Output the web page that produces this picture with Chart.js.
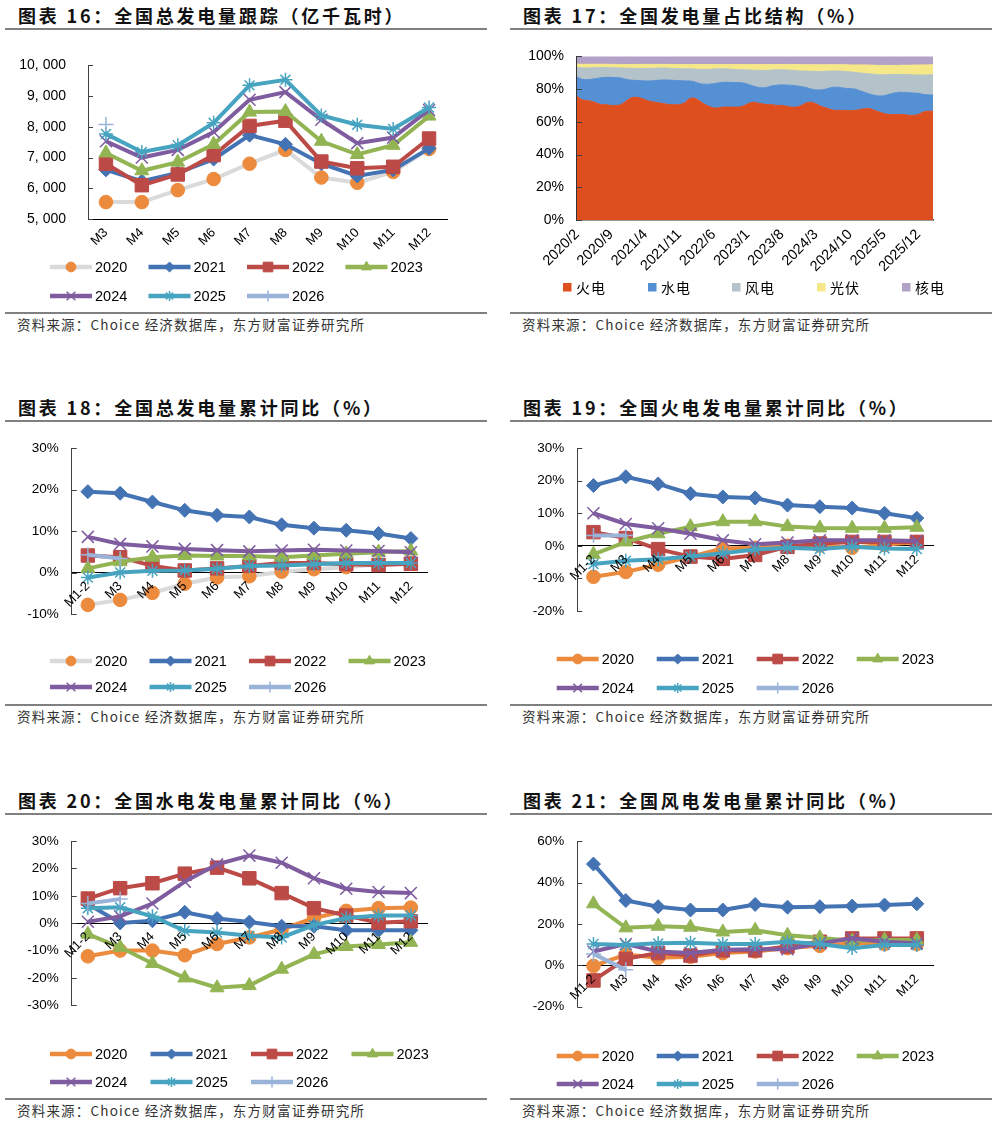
<!DOCTYPE html>
<html>
<head>
<meta charset="utf-8">
<script src="https://cdn.jsdelivr.net/npm/chart.js@4.4.1/dist/chart.umd.min.js"></script>
<style>
  body { margin: 0; background: #fff; width: 997px; height: 1123px; position: relative; overflow: hidden;
         font-family: "Noto Sans CJK SC", sans-serif; }
  .panel { position: absolute; width: 482px; height: 340px; }
  .title { position: absolute; left: 13px; top: 3px; font-size: 18px; font-weight: 700; letter-spacing: 2.8px;
           line-height: 24px; color: #111; white-space: nowrap; }
  .rule { position: absolute; left: 0; width: 482px; height: 2px; background: #808080; }
  .box { position: absolute; left: 0; top: 35px; width: 482px; height: 275px; }
  .src { position: absolute; left: 12px; top: 315px; font-size: 13.5px; letter-spacing: 1.2px; color: #333;
         line-height: 18px; white-space: nowrap; }
</style>
</head>
<body>

<div class="panel" style="left:5px;top:0px">
  <div class="title">图表 16：全国总发电量跟踪（亿千瓦时）</div>
  <div class="rule" style="top:28px"></div>
  <div class="box"><canvas id="c16" width="482" height="275"></canvas></div>
  <div class="rule" style="top:312px"></div>
  <div class="src">资料来源：Choice 经济数据库，东方财富证券研究所</div>
</div>
<div class="panel" style="left:510px;top:0px">
  <div class="title">图表 17：全国发电量占比结构（%）</div>
  <div class="rule" style="top:28px"></div>
  <div class="box"><canvas id="c17" width="482" height="275"></canvas></div>
  <div class="rule" style="top:312px"></div>
  <div class="src">资料来源：Choice 经济数据库，东方财富证券研究所</div>
</div>
<div class="panel" style="left:5px;top:392px">
  <div class="title">图表 18：全国总发电量累计同比（%）</div>
  <div class="rule" style="top:28px"></div>
  <div class="box"><canvas id="c18" width="482" height="275"></canvas></div>
  <div class="rule" style="top:312px"></div>
  <div class="src">资料来源：Choice 经济数据库，东方财富证券研究所</div>
</div>
<div class="panel" style="left:510px;top:392px">
  <div class="title">图表 19：全国火电发电量累计同比（%）</div>
  <div class="rule" style="top:28px"></div>
  <div class="box"><canvas id="c19" width="482" height="275"></canvas></div>
  <div class="rule" style="top:312px"></div>
  <div class="src">资料来源：Choice 经济数据库，东方财富证券研究所</div>
</div>
<div class="panel" style="left:5px;top:785px">
  <div class="title">图表 20：全国水电发电量累计同比（%）</div>
  <div class="rule" style="top:28px"></div>
  <div class="box"><canvas id="c20" width="482" height="275"></canvas></div>
  <div class="rule" style="top:313px"></div>
  <div class="src" style="top:316px">资料来源：Choice 经济数据库，东方财富证券研究所</div>
</div>
<div class="panel" style="left:510px;top:785px">
  <div class="title">图表 21：全国风电发电量累计同比（%）</div>
  <div class="rule" style="top:28px"></div>
  <div class="box"><canvas id="c21" width="482" height="275"></canvas></div>
  <div class="rule" style="top:313px"></div>
  <div class="src" style="top:316px">资料来源：Choice 经济数据库，东方财富证券研究所</div>
</div>

<script>
// ---- data ----
const years = ["2020", "2021", "2022", "2023", "2024", "2025", "2026"];
const monthsGen = ["M3", "M4", "M5", "M6", "M7", "M8", "M9", "M10", "M11", "M12"];
const monthsYoY = ["M1-2", "M3", "M4", "M5", "M6", "M7", "M8", "M9", "M10", "M11", "M12"];

// chart 16: monthly generation, 亿千瓦时 (rows follow `years`)
const genTotal = [
  [5550, 5550, 5940, 6300, 6800, 7250, 6350, 6180, 6530, 7280],
  [6600, 6230, 6500, 6950, 7730, 7430, 6800, 6400, 6600, 7300],
  [6800, 6100, 6450, 7080, 8030, 8200, 6870, 6650, 6700, 7620],
  [7150, 6570, 6850, 7430, 8480, 8500, 7530, 7100, 7400, 8350],
  [7530, 7000, 7250, 7830, 8880, 9130, 8230, 7470, 7650, 8550],
  [7770, 7180, 7400, 8130, 9350, 9530, 8370, 8070, 7930, 8630],
  [8080]
];

// chart 18: total generation, cumulative yoy %
const totalYoY = [
  [-7.8, -6.6, -4.9, -2.7, -1.2, -0.9, 0.2, 0.8, 1.3, 2.0, 2.3],
  [19.5, 19.1, 17.0, 15.0, 13.8, 13.4, 11.5, 10.7, 10.2, 9.4, 8.2],
  [4.1, 3.7, 1.6, 0.5, 1.0, 1.6, 2.3, 2.3, 2.0, 1.8, 2.1],
  [1.0, 2.6, 3.7, 4.1, 4.0, 4.0, 3.7, 4.1, 4.5, 4.9, 5.2],
  [8.6, 6.9, 6.3, 5.7, 5.4, 5.1, 5.3, 5.5, 5.3, 5.2, 4.9],
  [-1.2, 0.0, 0.4, 0.5, 0.9, 1.6, 1.7, 2.0, 2.3, 2.3, 2.3],
  [4.3, 3.4]
];

// chart 19: thermal, cumulative yoy %
const thermalYoY = [
  [-9.5, -8.0, -5.8, -3.3, -0.8, -0.6, 0.0, 0.1, -0.6, 0.3, 1.2],
  [18.5, 21.2, 19.0, 16.0, 15.0, 14.7, 12.5, 12.0, 11.6, 10.0, 8.5],
  [4.2, 2.4, -1.0, -3.3, -4.0, -2.8, -0.3, 0.7, 1.2, 1.2, 1.2],
  [-2.6, 1.2, 3.7, 5.9, 7.4, 7.4, 5.9, 5.5, 5.4, 5.4, 5.7],
  [10.0, 6.7, 5.4, 3.7, 1.7, 0.5, 1.0, 1.7, 1.7, 1.7, 1.5],
  [-5.6, -4.6, -4.1, -3.3, -2.3, -1.1, -0.6, -1.0, -0.3, -0.8, -1.0],
  [3.2, 3.2]
];

// chart 20: hydro, cumulative yoy %
const hydroYoY = [
  [-12.1, -10.0, -10.0, -11.7, -7.6, -5.2, -2.3, 1.9, 4.5, 5.5, 5.7],
  [7.0, 0.1, 0.9, 4.0, 1.7, 0.4, -1.1, -1.1, -2.6, -2.6, -2.6],
  [9.0, 12.8, 14.6, 18.1, 20.3, 16.4, 11.0, 5.5, 2.8, 0.2, 0.7],
  [-4.0, -8.8, -14.7, -20.0, -23.6, -22.8, -16.8, -11.4, -8.5, -7.8, -7.0],
  [0.5, 2.5, 7.2, 15.2, 21.5, 24.7, 22.1, 16.4, 12.6, 11.4, 11.0],
  [5.5, 5.8, 2.5, -2.8, -3.4, -4.6, -5.2, -0.7, 1.9, 2.8, 2.8],
  [7.2, 8.8]
];

// chart 21: wind, cumulative yoy %
const windYoY = [
  [-0.3, 5.2, 3.6, 4.1, 5.9, 6.7, 8.3, 9.4, 10.6, 10.3, 10.3],
  [48.9, 31.3, 28.3, 26.7, 26.7, 29.4, 28.1, 28.3, 28.6, 29.1, 29.7],
  [-7.3, 3.1, 5.9, 4.7, 7.2, 7.2, 9.1, 11.4, 13.0, 13.0, 13.0],
  [29.7, 18.1, 18.9, 18.4, 16.1, 16.9, 14.5, 13.3, 11.7, 12.2, 12.2],
  [6.7, 10.3, 6.7, 5.9, 7.5, 7.8, 7.8, 10.6, 13.0, 11.4, 10.6],
  [10.3, 9.8, 10.6, 10.9, 10.3, 10.3, 11.4, 10.3, 8.3, 9.8, 9.8],
  [5.5, -2.2]
];

// chart 17: monthly share of generation, %
const shareMonths = [
  "2020/2", "2020/3", "2020/4", "2020/5", "2020/6", "2020/7", "2020/8", "2020/9", "2020/10", "2020/11", "2020/12",
  "2021/1", "2021/2", "2021/3", "2021/4", "2021/5", "2021/6", "2021/7", "2021/8", "2021/9", "2021/10", "2021/11", "2021/12",
  "2022/1", "2022/2", "2022/3", "2022/4", "2022/5", "2022/6", "2022/7", "2022/8", "2022/9", "2022/10", "2022/11", "2022/12",
  "2023/1", "2023/2", "2023/3", "2023/4", "2023/5", "2023/6", "2023/7", "2023/8", "2023/9", "2023/10", "2023/11", "2023/12",
  "2024/1", "2024/2", "2024/3", "2024/4", "2024/5", "2024/6", "2024/7", "2024/8", "2024/9", "2024/10", "2024/11", "2024/12",
  "2025/1", "2025/2", "2025/3", "2025/4", "2025/5", "2025/6", "2025/7", "2025/8", "2025/9", "2025/10", "2025/11", "2025/12",
  "2026/1", "2026/2", "2026/3"
];
const shareLabels = ["火电", "水电", "风电", "光伏", "核电"];
const fireShare = [
  75.5, 73.5, 73.0, 72.5, 71.5, 70.5, 70.5, 70.0, 70.0, 70.5, 72.5,
  74.5, 75.0, 74.5, 73.5, 72.5, 72.0, 71.5, 71.0, 70.5, 70.5, 70.5, 71.5,
  74.0, 74.5, 73.0, 71.0, 69.5, 68.5, 68.5, 69.0, 69.0, 69.0, 69.0, 69.5,
  71.0, 72.0, 71.5, 71.0, 70.5, 70.5, 70.0, 70.0, 69.5, 69.0, 69.0, 70.0,
  71.5, 72.0, 71.0, 69.5, 68.5, 67.5, 67.0, 67.0, 67.0, 66.8, 67.0, 67.5,
  68.0, 68.0, 67.0, 66.0, 65.0, 64.5, 64.5, 64.5, 64.5, 64.0, 64.0, 64.5,
  66.0, 66.5, 66.5
];
const hydroShare = [
  12.0, 12.5, 12.8, 13.5, 15.0, 16.5, 16.7, 17.2, 17.0, 16.3, 13.5,
  11.0, 10.3, 10.7, 11.5, 12.5, 13.2, 14.0, 14.6, 15.0, 14.8, 14.7, 13.5,
  11.0, 10.0, 10.5, 12.0, 13.5, 14.8, 15.3, 15.2, 15.2, 15.0, 15.0, 14.3,
  12.0, 10.0, 9.7, 9.8, 10.7, 11.5, 12.4, 12.6, 13.0, 13.3, 13.0, 11.5,
  9.5, 8.0, 8.5, 10.0, 11.5, 13.3, 14.2, 14.0, 13.5, 13.5, 13.0, 11.5,
  10.0, 9.0, 9.2, 9.8, 11.0, 12.3, 13.1, 13.5, 13.5, 13.8, 13.6, 12.9,
  10.8, 10.0, 9.9
];
const windShare = [
  5.9, 7.0, 7.1, 7.0, 6.6, 6.2, 6.0, 5.9, 6.0, 6.1, 6.8,
  7.3, 7.4, 7.4, 7.6, 7.7, 7.6, 7.4, 7.3, 7.3, 7.3, 7.3, 7.4,
  7.4, 7.8, 8.6, 9.0, 9.1, 9.0, 8.6, 8.2, 8.1, 8.1, 7.9, 8.0,
  8.7, 9.6, 10.3, 10.6, 10.3, 9.7, 9.4, 9.2, 9.2, 9.2, 9.3, 9.6,
  10.0, 10.9, 11.3, 11.3, 10.9, 10.2, 9.9, 10.0, 10.3, 10.2, 10.2, 10.9,
  11.6, 12.3, 12.8, 13.0, 12.8, 12.1, 11.4, 11.0, 10.9, 11.0, 11.1, 11.2,
  11.8, 12.2, 12.4
];
const solarShare = [
  1.9, 2.2, 2.3, 2.2, 2.1, 2.0, 2.0, 2.0, 2.1, 2.2, 2.2,
  2.2, 2.4, 2.5, 2.5, 2.4, 2.3, 2.2, 2.2, 2.3, 2.4, 2.5, 2.6,
  2.6, 2.7, 2.9, 3.0, 2.9, 2.7, 2.6, 2.6, 2.7, 2.9, 3.1, 3.2,
  3.3, 3.4, 3.5, 3.6, 3.5, 3.3, 3.2, 3.2, 3.3, 3.5, 3.7, 3.8,
  3.9, 4.0, 4.1, 4.1, 4.0, 3.9, 3.8, 3.9, 4.1, 4.3, 4.6, 4.9,
  5.2, 5.4, 5.6, 5.7, 5.7, 5.6, 5.5, 5.5, 5.7, 5.8, 6.0, 6.1,
  6.2, 6.1, 6.1
];
const nuclearShare = [
  4.7, 4.8, 4.8, 4.8, 4.8, 4.8, 4.8, 4.9, 4.9, 4.9, 5.0,
  5.0, 4.9, 4.9, 4.9, 4.9, 4.9, 4.9, 4.9, 4.9, 5.0, 5.0, 5.0,
  5.0, 5.0, 5.0, 5.0, 5.0, 5.0, 5.0, 5.0, 5.0, 5.0, 5.0, 5.0,
  5.0, 5.0, 5.0, 5.0, 5.0, 5.0, 5.0, 5.0, 5.0, 5.0, 5.0, 5.1,
  5.1, 5.1, 5.1, 5.1, 5.1, 5.1, 5.1, 5.1, 5.1, 5.2, 5.2, 5.2,
  5.2, 5.3, 5.4, 5.5, 5.5, 5.5, 5.5, 5.5, 5.4, 5.4, 5.3, 5.3,
  5.2, 5.2, 5.1
];

// ---- styles ----
Chart.defaults.font.family = '"Liberation Sans", "Noto Sans CJK SC", sans-serif';
Chart.defaults.color = "#000";

const yearStyle = [
  { color: "#ec8b3d", point: "circle", r: 6.8 },
  { color: "#4473b4", point: "rectRot", r: 7 },
  { color: "#bc4a47", point: "rect", r: 9.5 },
  { color: "#92b453", point: "triangle", r: 8 },
  { color: "#7e5c9f", point: "crossRot", r: 8.5 },
  { color: "#47a4c0", point: "star", r: 7 },
  { color: "#99b3d9", point: "cross", r: 7.5 }
];
const shareColors = ["#dd4f1f", "#558fd4", "#b4c3ca", "#f6e788", "#b3a1c8"];

function drawMarker(ctx, style, r, x, y) {
  if (Chart.helpers && Chart.helpers.drawPoint) {
    Chart.helpers.drawPoint(ctx, { pointStyle: style, radius: r, rotation: 0, borderWidth: ctx.lineWidth }, x, y);
  } else {
    ctx.beginPath(); ctx.arc(x, y, r, 0, Math.PI * 2); ctx.fill();
  }
}

// legend with a line and a marker per year, two rows
const lineLegend = {
  id: "lineLegend",
  afterDraw(chart, args, opts) {
    const ctx = chart.ctx;
    chart.data.datasets.forEach((ds, i) => {
      const x = opts.x0 + (i % 4) * opts.dx;
      const y = opts.rows[i < 4 ? 0 : 1];
      ctx.save();
      ctx.strokeStyle = ds.borderColor;
      ctx.lineWidth = 4.5;
      ctx.beginPath(); ctx.moveTo(x, y); ctx.lineTo(x + 42, y); ctx.stroke();
      ctx.fillStyle = ds.pointBackgroundColor;
      ctx.strokeStyle = ds.pointBorderColor;
      ctx.lineWidth = ds.pointBorderWidth;
      drawMarker(ctx, ds.pointStyle, ds.pointRadius * 0.72, x + 21, y);
      ctx.fillStyle = "#000";
      ctx.font = '14.5px "Liberation Sans", sans-serif';
      ctx.textBaseline = "middle";
      ctx.fillText(ds.label, x + 45, y + 1);
      ctx.restore();
    });
  }
};

// square swatches for the share chart
const boxLegend = {
  id: "boxLegend",
  afterDraw(chart, args, opts) {
    const ctx = chart.ctx;
    chart.data.datasets.forEach((ds, i) => {
      const x = opts.xs[i], y = opts.y;
      ctx.save();
      ctx.fillStyle = ds.backgroundColor;
      ctx.fillRect(x, y - 4, 8.5, 8.5);
      ctx.fillStyle = "#000";
      ctx.font = '14px "Noto Sans CJK SC", sans-serif';
      ctx.textBaseline = "middle";
      ctx.letterSpacing = "1px";
      ctx.fillText(ds.label, x + 13, y + 1);
      ctx.restore();
    });
  }
};

// small tick marks on the inner side of the value axis
const innerTicks = {
  id: "innerTicks",
  afterDatasetsDraw(chart) {
    const ys = chart.scales.y, ctx = chart.ctx;
    ctx.save();
    ctx.strokeStyle = "#404040";
    ctx.lineWidth = 1;
    ys.ticks.forEach(t => {
      const py = Math.round(ys.getPixelForValue(t.value)) + 0.5;
      ctx.beginPath(); ctx.moveTo(ys.right, py); ctx.lineTo(ys.right + 5, py); ctx.stroke();
    });
    ctx.restore();
  }
};

function lineChart(id, labels, rows, o) {
  const datasets = rows.map((data, i) => {
    const s = yearStyle[i];
    const thin = ["cross", "crossRot", "star"].includes(s.point);
    return {
      label: years[i],
      data,
      borderColor: (i === 0 && o.grey2020) ? "#dadada" : s.color,
      borderWidth: 4,
      tension: 0,
      pointStyle: s.point,
      pointRadius: s.r,
      pointHoverRadius: s.r,
      pointBackgroundColor: s.color,
      pointBorderColor: s.color,
      pointBorderWidth: thin ? 1.5 : 1,
      order: rows.length - i
    };
  });
  new Chart(document.getElementById(id), {
    type: "line",
    data: { labels, datasets },
    plugins: [innerTicks, lineLegend],
    options: {
      responsive: false,
      animation: false,
      events: [],
      // an x axis placed at y = 0 takes no layout room, so its space goes in the padding
      layout: { padding: { left: 0, right: o.padR, top: o.padT, bottom: o.xAtZero ? o.xh : 0 } },
      plugins: {
        legend: { display: false },
        tooltip: { enabled: false },
        lineLegend: o.legend
      },
      scales: {
        x: {
          position: o.xAtZero ? { y: 0 } : "bottom",
          offset: true,
          grid: { display: false, drawTicks: false },
          border: { color: "#000", width: 1 },
          // labels sit on the zero line, drawn above the series as in the source
          ticks: { autoSkip: false, minRotation: 45, maxRotation: 45, padding: 6, font: { size: 13 },
                   z: o.xAtZero ? 1 : 0 },
          afterFit: s => { s.height = o.xAtZero ? 0 : o.xh; }
        },
        y: {
          min: o.min, max: o.max,
          grid: { display: false, drawTicks: false },
          border: { color: "#404040", width: 1 },
          ticks: { stepSize: o.step, padding: o.tickPad, font: { size: o.tickSize }, callback: o.fmt },
          afterFit: s => { s.width = o.yw; }
        }
      }
    }
  });
}

const pct = v => v + "%";

lineChart("c16", monthsGen, genTotal, {
  grey2020: true, xAtZero: false, min: 5000, max: 10000, step: 1000,
  fmt: v => v.toLocaleString("en-US").replace(",", ", "), tickPad: 22, tickSize: 14,
  yw: 83, padR: 40, padT: 17, xh: 91,
  legend: { x0: 45, dx: 98.5, rows: [232, 261] }
});
lineChart("c18", monthsYoY, totalYoY, {
  grey2020: true, xAtZero: true, min: -10, max: 30, step: 10,
  fmt: pct, tickPad: 13, tickSize: 13.5,
  yw: 66.7, padR: 60, padT: 16.3, xh: 88,
  legend: { x0: 45, dx: 99.5, rows: [234, 260] }
});
lineChart("c19", monthsYoY, thermalYoY, {
  grey2020: false, xAtZero: true, min: -20, max: 30, step: 10,
  fmt: pct, tickPad: 13, tickSize: 13.5,
  yw: 67.3, padR: 59, padT: 16.3, xh: 91,
  legend: { x0: 46.7, dx: 100, rows: [232, 261] }
});
lineChart("c20", monthsYoY, hydroYoY, {
  grey2020: false, xAtZero: true, min: -30, max: 30, step: 10,
  fmt: pct, tickPad: 13, tickSize: 13.5,
  yw: 66.7, padR: 60, padT: 16.7, xh: 89.7,
  legend: { x0: 45, dx: 100.5, rows: [234, 262] }
});
lineChart("c21", monthsYoY, windYoY, {
  grey2020: false, xAtZero: true, min: -20, max: 60, step: 20,
  fmt: pct, tickPad: 13, tickSize: 13.5,
  yw: 67.3, padR: 59, padT: 16.7, xh: 88.3,
  legend: { x0: 46.7, dx: 100, rows: [236, 264] }
});

// chart 17: 100% stacked area
const shareSeries = [fireShare, hydroShare, windShare, solarShare, nuclearShare];
new Chart(document.getElementById("c17"), {
  type: "line",
  data: {
    labels: shareMonths,
    datasets: shareSeries.map((data, i) => ({
      label: shareLabels[i],
      data,
      fill: i === 0 ? "origin" : "-1",
      backgroundColor: shareColors[i],
      borderColor: shareColors[i],
      borderWidth: 1,
      pointRadius: 0,
      tension: 0.3
    }))
  },
  plugins: [innerTicks, boxLegend],
  options: {
    responsive: false,
    animation: false,
    events: [],
    layout: { padding: { left: 0, right: 59, top: 16.7, bottom: 0 } },
    plugins: {
      legend: { display: false },
      tooltip: { enabled: false },
      boxLegend: { xs: [53, 138, 222, 307, 392], y: 252 }
    },
    scales: {
      x: {
        offset: false,
        grid: { display: false, drawTicks: false },
        border: { color: "#333", width: 1.5 },
        ticks: {
          autoSkip: false, minRotation: 45, maxRotation: 45, padding: 6, font: { size: 14.5 },
          callback: function (v, i) { return i % 7 === 0 ? this.getLabelForValue(v) : ""; }
        },
        afterFit: s => { s.height = 90; }
      },
      y: {
        stacked: true, min: 0, max: 100,
        grid: { display: false, drawTicks: false },
        border: { color: "#333", width: 1.5 },
        ticks: { stepSize: 20, padding: 13, font: { size: 14 }, callback: pct },
        afterFit: s => { s.width = 67; }
      }
    }
  }
});
</script>
</body>
</html>
